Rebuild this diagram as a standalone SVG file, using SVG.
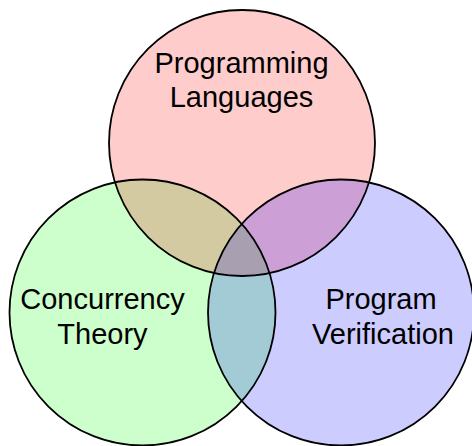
<svg xmlns="http://www.w3.org/2000/svg" width="472" height="446" viewBox="0 0 472 446">
<style>
.lbl{font-family:"Liberation Sans",Arial,Helvetica,sans-serif;font-size:29px;fill:#000;text-anchor:middle}
.edge{fill:none;stroke:#000;stroke-width:1.8}
</style>
<defs>
<clipPath id="cA"><circle cx="242" cy="143" r="133"/></clipPath>
<clipPath id="cB"><circle cx="142.5" cy="312.5" r="133"/></clipPath>
</defs>
<rect width="472" height="446" fill="#fff"/>
<g id="fills">
<circle cx="242" cy="143" r="133" fill="#ffcccc"/>
<circle cx="142.5" cy="312.5" r="133" fill="#ccffcc"/>
<circle cx="341" cy="312.5" r="133" fill="#ccccff"/>
<circle cx="142.5" cy="312.5" r="133" fill="#d4caa1" clip-path="url(#cA)"/>
<circle cx="341" cy="312.5" r="133" fill="#cca0d6" clip-path="url(#cA)"/>
<circle cx="341" cy="312.5" r="133" fill="#a3cbd5" clip-path="url(#cB)"/>
<g clip-path="url(#cA)"><circle cx="341" cy="312.5" r="133" fill="#a89fb1" clip-path="url(#cB)"/></g>
</g>
<g id="programming-languages">
<circle class="edge" cx="242" cy="143" r="133"/>
<text class="lbl" x="241.5" y="73">Programming</text>
<text class="lbl" x="241.5" y="107">Languages</text>
</g>
<g id="concurrency-theory">
<circle class="edge" cx="142.5" cy="312.5" r="133"/>
<text class="lbl" x="102.5" y="309">Concurrency</text>
<text class="lbl" x="102.5" y="344">Theory</text>
</g>
<g id="program-verification">
<circle class="edge" cx="341" cy="312.5" r="133"/>
<text class="lbl" x="381" y="309">Program</text>
<text class="lbl" x="383" y="344">Verification</text>
</g>
<g id="connectors"/>
</svg>
